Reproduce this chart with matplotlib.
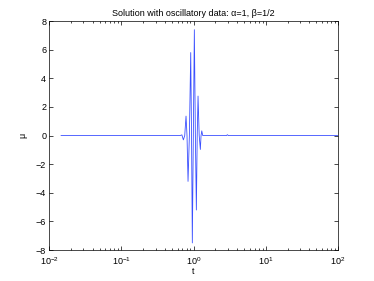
import matplotlib
matplotlib.use("Agg")
import matplotlib.pyplot as plt
import numpy as np

# values
t_vals = [0.0147, 0.65, 0.69, 0.723, 0.755, 0.787, 0.812, 0.839, 0.876, 0.914,
          0.938, 0.962, 0.993, 1.026, 1.06, 1.094, 1.124, 1.154, 1.197, 1.242,
          1.27, 1.30, 1.34, 1.40, 2.85, 2.94, 3.03, 100.0]
mu_vals = [0.0, 0.0, 0.05, -0.3, 0.0, 1.36, 0.0, -3.2, 0.0, 5.8,
           0.0, -7.5, 0.0, 7.4, 0.0, -5.2, 0.0, 2.76, 0.0, -0.97,
           0.0, 0.33, 0.0, 0.0, 0.0, 0.06, 0.0, 0.0]
y_ticks = [-8, -6, -4, -2, 0, 2, 4, 6, 8]

plt.rcParams['font.family'] = ['Liberation Sans', 'DejaVu Sans']
plt.rcParams['mathtext.fontset'] = 'custom'
plt.rcParams['mathtext.rm'] = 'Liberation Sans'
plt.rcParams['mathtext.it'] = 'Liberation Sans:italic'

fig = plt.figure(figsize=(3.74, 2.81), dpi=100)
ax = fig.add_axes([0.131, 0.110, 0.773, 0.815])

ax.semilogx(t_vals, mu_vals, color='#3a4fff', linewidth=0.6)
ax.set_xlim(1e-2, 1e2)
ax.set_ylim(-8, 8)
ax.set_yticks(y_ticks)

ax.tick_params(which='both', direction='in', top=True, right=True,
               labelsize=6.5, width=0.5, pad=2)
ax.tick_params(axis='x', which='both', pad=3.5)
ax.tick_params(which='major', length=3)
ax.tick_params(which='minor', length=1.5)
for s in ax.spines.values():
    s.set_linewidth(0.5)

ax.set_title('Solution with oscillatory data: \u03b1=1, \u03b2=1/2', fontsize=6.5, pad=4)
ax.set_xlabel('t', fontsize=6.5, labelpad=0)
ax.set_ylabel('\u03bc', fontsize=6.5, labelpad=6)

fig.savefig('out.png', dpi=100)
